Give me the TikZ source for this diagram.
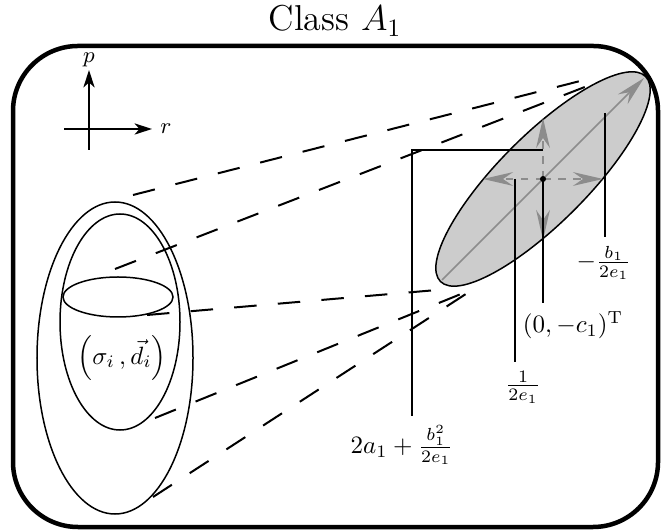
\documentclass[tikz,border=0pt]{standalone}
\usetikzlibrary{shapes.geometric,arrows.meta}
\begin{document}
\begin{tikzpicture}[x=0.4pt, y=0.4pt,
    frame/.style={line width=1.8pt, rounded corners=26pt},
    cone/.style={line width=0.8pt, dash pattern=on 9pt off 8.5pt},
    set/.style={draw, ellipse, line width=0.6pt, inner sep=0pt},
    leader/.style={line width=0.5pt},
    axis/.style={line width=0.6pt, -{Stealth[length=7pt, width=4.5pt, inset=2pt]}},
    dir/.style={draw=black!45, line width=0.6pt, dashed,
      -{Stealth[length=12pt, width=5.5pt, inset=4pt]}},
  ]
  \useasboundingbox (0,0) rectangle (670,531);

  % Frame
  \node[font=\Large] (title) at (335,510) {Class $A_1$};
  \draw[frame] (13,4) rectangle (658,485);

  % Axes
  \draw[axis] (89,381) -- (89,461) node[above, font=\small, inner sep=1pt] (p) {$p$};
  \draw[axis] (64,402) -- (152,402) node[right, font=\small, inner sep=3pt] (r) {$r$};

  % Sets
  \node[set, minimum width=62.4pt, minimum height=124.8pt] (outer) at (115,173) {};
  \node[set, minimum width=48pt,   minimum height=86.4pt]  (inner) at (120,209) {};
  \node[set, minimum width=44pt,   minimum height=16pt]    (small) at (118,234) {};
  \node (sd) at (122,173) {$\left(\sigma_i\,, \vec{d}_i\right)$};

  % Cone
  \coordinate (s1) at (133,336);  \coordinate (t1) at (592,453);
  \coordinate (s2) at (115,262);  \coordinate (t2) at (590,446);
  \coordinate (s3) at (147,216);  \coordinate (t3) at (437,241);
  \coordinate (s4) at (155,113);  \coordinate (t4) at (461,237);
  \coordinate (s5) at (153,34);   \coordinate (t5) at (472,241);
  \draw[cone] (s1) -- (t1);
  \draw[cone] (s2) -- (t2);
  \draw[cone] (s3) -- (t3);
  \draw[cone] (s4) -- (t4);
  \draw[cone] (s5) -- (t5);

  % Image
  \node[draw, ellipse, fill=black!20, line width=0.6pt, inner sep=0pt, rotate=45,
    minimum width=116pt, minimum height=35.2pt] (img) at (543,352) {};
  \coordinate (c) at (543,352);

  % Directions
  \draw[black!45, line width=0.6pt, -{Stealth[length=12pt, width=5.5pt, inset=4pt]}]
    (442,251) -- (644,453);
  \draw[dir] (c) -- ++(0,61);
  \draw[dir] (c) -- ++(0,-61);
  \draw[dir] (c) -- ++(-60,0);
  \draw[dir] (c) -- ++(60,0);

  % Labels
  \node (cT)  at (573,206) {$(0,-c_1)^{\mathrm{T}}$};
  \node (inv) at (523,144) {$\frac{1}{2e_1}$};
  \node (bb)  at (604,268) {$-\frac{b_1}{2e_1}$};
  \node (aa)  at (402,86)  {$2a_1+\frac{b_1^2}{2e_1}$};

  \coordinate (k1) at (515,352);
  \coordinate (k2) at (605,418);
  \coordinate (k3) at (543,381);
  \coordinate (k4) at (412,381);
  \draw[leader] (c) -- (c |- cT.north);
  \draw[leader] (k1) -- (k1 |- inv.north);
  \draw[leader] (k2) -- (k2 |- bb.north);
  \draw[leader] (k3) -- (k4) -- (k4 |- aa.north);
  \fill (c) circle (1.2pt);
\end{tikzpicture}
\end{document}
